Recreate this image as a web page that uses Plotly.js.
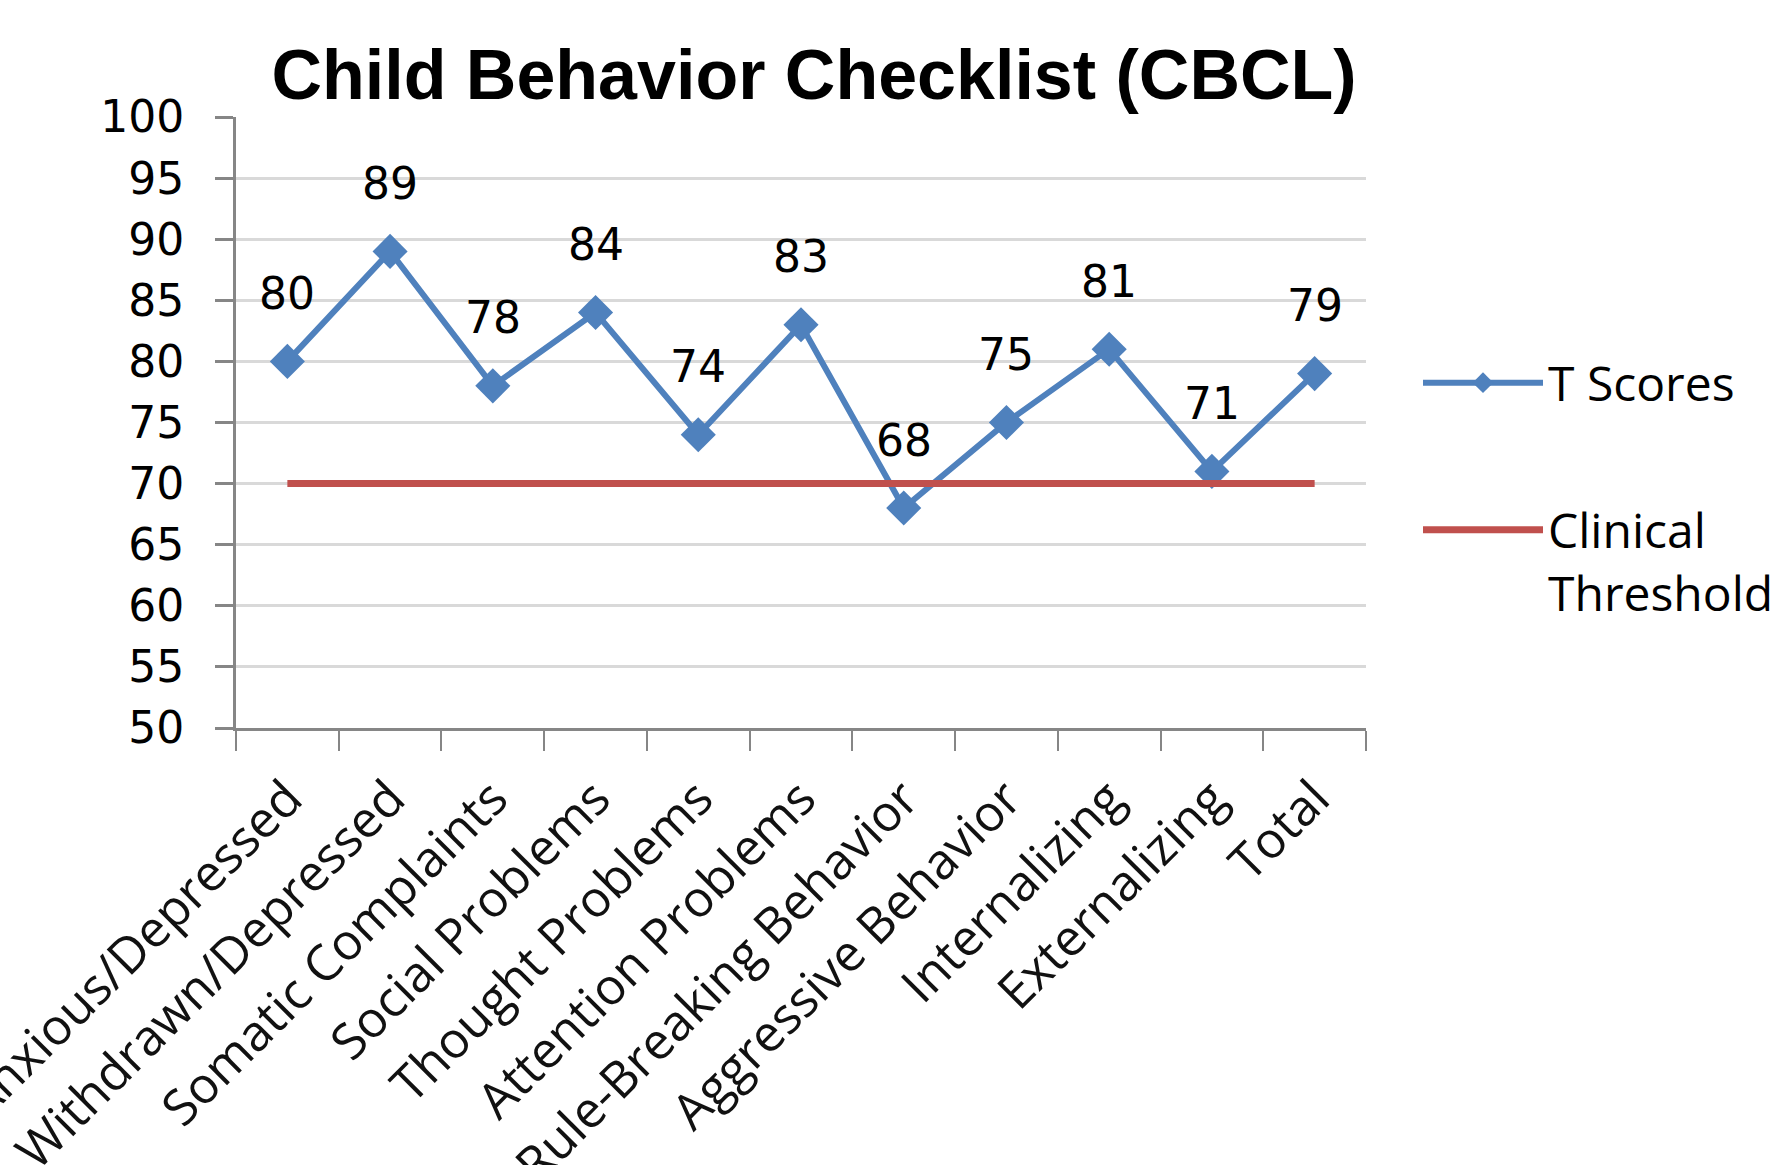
<!DOCTYPE html>
<html>
<head>
<meta charset="utf-8">
<script src="https://cdn.plot.ly/plotly-3.0.1.min.js"></script>
<style>
html,body{margin:0;padding:0;background:#fff;}
#chart{width:1780px;height:1165px;}
</style>
</head>
<body>
<div id="chart"></div>
<script>
const categories = [
  "Anxious/Depressed",
  "Withdrawn/Depressed",
  "Somatic Complaints",
  "Social Problems",
  "Thought Problems",
  "Attention Problems",
  "Rule-Breaking Behavior",
  "Aggressive Behavior",
  "Internalizing",
  "Externalizing",
  "Total"
];
const tScores = [80, 89, 78, 84, 74, 83, 68, 75, 81, 71, 79];
const clinicalThreshold = [70, 70, 70, 70, 70, 70, 70, 70, 70, 70, 70];
const yTickValues = [50, 55, 60, 65, 70, 75, 80, 85, 90, 95, 100];

const blue = "#4f81bd";
const red = "#c0504d";
const axisGray = "#868686";
const gridGray = "#d9d9d9";

const traces = [
  {
    type: "scatter",
    mode: "lines+markers",
    name: "T Scores",
    x: categories,
    y: tScores,
    line: {color: blue, width: 6},
    marker: {symbol: "diamond", size: 27, color: blue},
    legend: "legend",
    cliponaxis: false
  },
  {
    type: "scatter",
    mode: "lines",
    name: "Clinical<br>Threshold",
    x: categories,
    y: clinicalThreshold,
    line: {color: red, width: 7},
    legend: "legend2",
    cliponaxis: false
  }
];

const annotations = tScores.map((v, i) => ({
  x: categories[i],
  y: v,
  xref: "x",
  yref: "y",
  text: String(v),
  showarrow: false,
  yshift: 68,
  font: {family: "DejaVu Sans", size: 44, color: "#000"}
}));

const layout = {
  width: 1780,
  height: 1165,
  paper_bgcolor: "#fff",
  plot_bgcolor: "#fff",
  margin: {l: 236, r: 414, t: 117, b: 437, pad: 0},
  title: {
    text: "Child Behavior Checklist (CBCL)",
    font: {family: "Liberation Sans", size: 70, color: "#000", weight: "bold"},
    x: 814 / 1780,
    xanchor: "center",
    xref: "container",
    y: 1 - 74 / 1165,
    yanchor: "middle"
  },
  xaxis: {
    type: "category",
    range: [-0.5, categories.length - 0.5],
    showline: true,
    linecolor: axisGray,
    linewidth: 3,
    ticks: "outside",
    tickson: "boundaries",
    ticklen: 20,
    tickwidth: 2,
    tickcolor: axisGray,
    tickangle: -45,
    ticklabelstandoff: 18,
    tickfont: {family: "Open Sans", size: 50, color: "#111"},
    showgrid: false,
    zeroline: false,
    automargin: false
  },
  yaxis: {
    range: [50, 100],
    tickvals: yTickValues,
    ticktext: yTickValues.map(String),
    showline: true,
    linecolor: axisGray,
    linewidth: 3,
    ticks: "outside",
    ticklen: 18,
    tickwidth: 3,
    tickcolor: axisGray,
    ticklabelstandoff: 22,
    tickfont: {family: "DejaVu Sans", size: 44, color: "#000"},
    showgrid: true,
    gridcolor: gridGray,
    gridwidth: 3,
    zeroline: false,
    automargin: false
  },
  legend: {
    xref: "container",
    yref: "container",
    x: 1418 / 1780,
    y: 1 - 383 / 1165,
    xanchor: "left",
    yanchor: "middle",
    bgcolor: "rgba(0,0,0,0)",
    font: {family: "Open Sans", size: 48, color: "#000"},
    itemwidth: 120,
    borderwidth: 0
  },
  legend2: {
    xref: "container",
    yref: "container",
    x: 1418 / 1780,
    y: 1 - 561 / 1165,
    xanchor: "left",
    yanchor: "middle",
    valign: "top",
    bgcolor: "rgba(0,0,0,0)",
    font: {family: "Open Sans", size: 48, color: "#000"},
    itemwidth: 120,
    borderwidth: 0
  },
  annotations: annotations,
  showlegend: true
};

Plotly.newPlot("chart", traces, layout, {displayModeBar: false, staticPlot: true});
</script>
</body>
</html>
